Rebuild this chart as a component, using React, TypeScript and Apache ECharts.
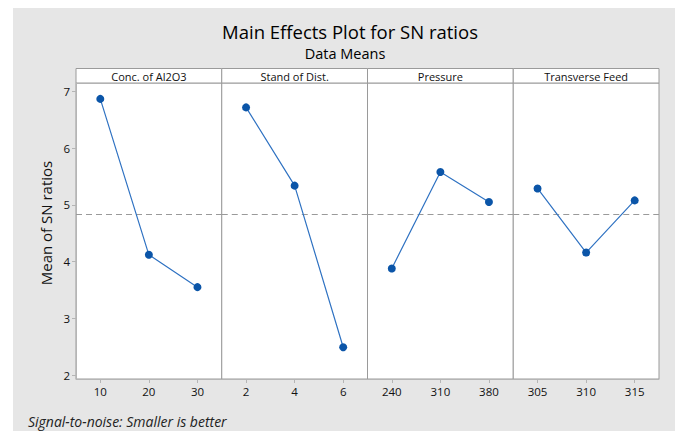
import React, { useEffect, useRef } from "react";
import * as echarts from "echarts";

const factors = ["Conc. of Al2O3", "Stand of Dist.", "Pressure", "Transverse Feed"];
const concLevels = ["10", "20", "30"];
const standLevels = ["2", "4", "6"];
const pressureLevels = ["240", "310", "380"];
const feedLevels = ["305", "310", "315"];
const concMeans = [6.87, 4.12, 3.55];
const standMeans = [6.72, 5.34, 2.49];
const pressureMeans = [3.88, 5.58, 5.05];
const feedMeans = [5.29, 4.16, 5.08];
const grandMean = 4.84;
const yTicks = [2, 3, 4, 5, 6, 7];

const FONT = "'Open Sans', 'Noto Sans', sans-serif";

export default function App() {
  const ref = useRef<HTMLDivElement>(null);
  useEffect(() => {
    if (!ref.current) return;
    const chart = echarts.init(ref.current, null, { renderer: "svg" });
    const levels = [concLevels, standLevels, pressureLevels, feedLevels];
    const means = [concMeans, standMeans, pressureMeans, feedMeans];
    const left0 = 76;
    const right0 = 659;
    const pw = (right0 - left0) / 4;
    const top = 83;
    const bottom = 379;
    const grids: any[] = [];
    const xAxes: any[] = [];
    const yAxes: any[] = [];
    const series: any[] = [];
    const graphics: any[] = [
      {
        type: "rect",
        z: -100,
        silent: true,
        shape: { x: 13, y: 8, width: 662, height: 423 },
        style: { fill: "#e6e6e6" },
      },
      {
        type: "text",
        x: 350,
        y: 31,
        style: {
          text: "Main Effects Plot for SN ratios",
          font: `18.5px ${FONT}`,
          fill: "#000",
          align: "center",
          verticalAlign: "middle",
        },
      },
      {
        type: "text",
        x: 345,
        y: 53,
        style: {
          text: "Data Means",
          font: `14.5px ${FONT}`,
          fill: "#000",
          align: "center",
          verticalAlign: "middle",
        },
      },
      {
        type: "text",
        x: 46,
        y: 223,
        rotation: Math.PI / 2,
        style: {
          text: "Mean of SN ratios",
          font: `15px ${FONT}`,
          fill: "#111",
          align: "center",
          verticalAlign: "middle",
        },
      },
      {
        type: "text",
        x: 28,
        y: 421,
        style: {
          text: "Signal-to-noise: Smaller is better",
          font: `italic 14px ${FONT}`,
          fill: "#222",
          align: "left",
          verticalAlign: "middle",
        },
      },
    ];
    for (let i = 0; i < 4; i++) {
      const l = left0 + i * pw;
      grids.push({
        left: l,
        top: top,
        width: pw,
        height: bottom - top,
        show: true,
        backgroundColor: "#ffffff",
        borderColor: "#9a9a9a",
        borderWidth: 1,
      });
      xAxes.push({
        type: "category",
        gridIndex: i,
        data: levels[i],
        boundaryGap: true,
        axisLine: { show: true, lineStyle: { color: "#b5b5b5" } },
        axisTick: { show: true, alignWithLabel: true, length: 4, lineStyle: { color: "#b5b5b5" } },
        axisLabel: { color: "#111", fontSize: 11.5, fontFamily: FONT, margin: 6 },
        splitLine: { show: false },
      });
      yAxes.push({
        type: "value",
        gridIndex: i,
        min: 1.93,
        max: 7.15,
        axisLine: { show: i === 0, lineStyle: { color: "#b5b5b5" } },
        axisTick: {
          show: i === 0,
          length: 4,
          customValues: yTicks,
          lineStyle: { color: "#b5b5b5" },
        },
        axisLabel: {
          show: i === 0,
          customValues: yTicks,
          color: "#111",
          fontSize: 11.5,
          fontFamily: FONT,
          margin: 6,
        },
        splitLine: { show: false },
      });
      series.push({
        type: "line",
        xAxisIndex: i,
        yAxisIndex: i,
        data: means[i],
        symbol: "circle",
        symbolSize: 8,
        itemStyle: { color: "#0b55a8" },
        lineStyle: { color: "#2f72c2", width: 1.2 },
        markLine: {
          silent: true,
          symbol: "none",
          label: { show: false },
          lineStyle: { color: "#9a9a9a", type: [6, 4], width: 1 },
          data: [{ yAxis: grandMean }],
        },
        z: 5,
      });
      graphics.push({
        type: "rect",
        shape: { x: l, y: 68.5, width: pw, height: top - 68.5 },
        style: { fill: "#ffffff", stroke: "#9a9a9a", lineWidth: 1 },
      });
      graphics.push({
        type: "text",
        x: l + pw / 2,
        y: 76,
        style: {
          text: factors[i],
          font: `11px ${FONT}`,
          fill: "#111",
          align: "center",
          verticalAlign: "middle",
        },
      });
    }
    chart.setOption({
      animation: false,
      backgroundColor: "#ffffff",
      grid: grids,
      xAxis: xAxes,
      yAxis: yAxes,
      series,
      graphic: graphics,
    });
    return () => chart.dispose();
  }, []);
  return (
    <div
      ref={ref}
      style={{ position: "fixed", left: 0, top: 0, width: 675, height: 431 }}
    />
  );
}
